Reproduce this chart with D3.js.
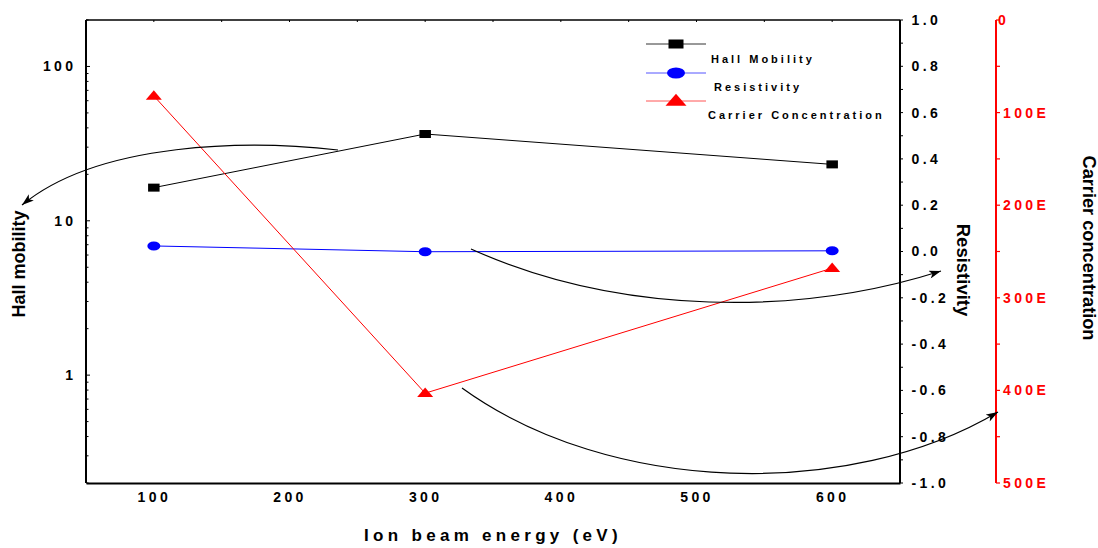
<!DOCTYPE html>
<html>
<head>
<meta charset="utf-8">
<script src="https://cdn.jsdelivr.net/npm/d3@7"></script>
<style>
  html, body { margin: 0; padding: 0; background: #fff; }
  svg { display: block; }
  text { font-family: Arial, "Liberation Sans", sans-serif; }
</style>
</head>
<body>
<svg id="chart" width="1098" height="548"></svg>
<script>
// ---- data ----
const energies = [100, 300, 600];
const hallMobility = [16.4, 36.5, 23.2];
const resistivity = [0.024, -0.001, 0.003];
const carrierConc = [82, 403, 268];
const xTickValues = [100, 200, 300, 400, 500, 600];
const hallTickValues = [1, 10, 100];
const resTickValues = [-1.0, -0.8, -0.6, -0.4, -0.2, 0.0, 0.2, 0.4, 0.6, 0.8, 1.0];
const carrierTickValues = [0, 100, 200, 300, 400, 500];
const seriesNames = ["Hall Mobility", "Resistivity", "Carrier Concentration"];

// ---- layout ----
const svg = d3.select("#chart");
const L = 86, R = 900, T = 20, B = 483, RED_X = 996;

const x = d3.scaleLinear().domain([50, 650]).range([L, R]);
const yHall = d3.scaleLog().domain([0.2, 200]).range([B, T]);
const yRes = d3.scaleLinear().domain([-1, 1]).range([B, T]);
const yCar = d3.scaleLinear().domain([0, 500]).range([T, B]);

const tickFont = g => g.selectAll("text")
  .attr("font-family", "Arial, 'Liberation Sans', sans-serif")
  .attr("font-size", 14).attr("font-weight", "bold")
  .style("letter-spacing", "3.4px");

// arrow marker
const defs = svg.append("defs");
defs.append("marker").attr("id", "arrow")
  .attr("markerUnits", "userSpaceOnUse")
  .attr("viewBox", "0 0 12 8").attr("refX", 12).attr("refY", 4)
  .attr("markerWidth", 13).attr("markerHeight", 8).attr("orient", "auto")
  .append("path").attr("d", "M0,0 L12,4 L0,8 L3,4 Z").attr("fill", "#000");

// ---- frame: top line with inner ticks ----
svg.append("line").attr("x1", L).attr("x2", R).attr("y1", T).attr("y2", T)
  .attr("stroke", "#000").attr("stroke-width", 1.5);
svg.append("g").selectAll("line").data(d3.range(100, 650, 50)).join("line")
  .attr("x1", d => x(d)).attr("x2", d => x(d)).attr("y1", T).attr("y2", T + 2)
  .attr("stroke", "#000").attr("stroke-width", 1);

// ---- bottom axis ----
const gx = svg.append("g").attr("transform", `translate(0,${B})`)
  .call(d3.axisBottom(x).tickValues(xTickValues).tickSize(0).tickPadding(9).tickFormat(d3.format("d")));
gx.select(".domain").attr("stroke", "#000").attr("stroke-width", 2.2);
gx.call(tickFont);
gx.selectAll("text").attr("fill", "#000");

// ---- left log axis ----
const minorHall = [];
[0.1, 1, 10, 100].forEach(dec => { for (let k = 1; k <= 9; k++) { const v = k * dec; if (v >= 0.2 && v <= 200) minorHall.push(v); } });
const gyL = svg.append("g").attr("transform", `translate(${L},0)`);
gyL.append("line").attr("x1", 0).attr("x2", 0).attr("y1", T).attr("y2", B)
  .attr("stroke", "#000").attr("stroke-width", 2);
gyL.selectAll("line.minor").data(minorHall).join("line").attr("class", "minor")
  .attr("x1", 0).attr("x2", d => hallTickValues.includes(d) ? 4 : 2.5)
  .attr("y1", d => yHall(d)).attr("y2", d => yHall(d))
  .attr("stroke", "#000").attr("stroke-width", 1);
const gyLt = svg.append("g").attr("transform", `translate(${L},0)`)
  .call(d3.axisLeft(yHall).tickValues(hallTickValues).tickSize(0).tickPadding(9.5).tickFormat(d3.format("d")));
gyLt.select(".domain").remove();
gyLt.call(tickFont);

// ---- right resistivity axis ----
const gyR = svg.append("g").attr("transform", `translate(${R},0)`);
gyR.append("line").attr("x1", 0).attr("x2", 0).attr("y1", T).attr("y2", B)
  .attr("stroke", "#000").attr("stroke-width", 2);
gyR.selectAll("line.t").data(d3.range(-10, 11).map(k => k / 10)).join("line").attr("class", "t")
  .attr("x1", 0).attr("x2", 3).attr("y1", d => yRes(d)).attr("y2", d => yRes(d))
  .attr("stroke", "#000").attr("stroke-width", 1);
const gyRt = svg.append("g").attr("transform", `translate(${R},0)`)
  .call(d3.axisRight(yRes).tickValues(resTickValues).tickSize(0).tickPadding(11.5).tickFormat(d3.format(".1f")));
gyRt.select(".domain").remove();
gyRt.call(tickFont);
gyRt.selectAll("text").text(d => d3.format(".1f")(d).replace("−", "-"));

// ---- red carrier axis ----
const gyC = svg.append("g").attr("transform", `translate(${RED_X},0)`);
gyC.append("line").attr("x1", 0).attr("x2", 0).attr("y1", T).attr("y2", B)
  .attr("stroke", "#ff0000").attr("stroke-width", 2);
gyC.selectAll("line.t").data(d3.range(0, 501, 50)).join("line").attr("class", "t")
  .attr("x1", 0).attr("x2", 4).attr("y1", d => yCar(d)).attr("y2", d => yCar(d))
  .attr("stroke", "#ff0000").attr("stroke-width", 1.2);
const gyCt = svg.append("g").attr("transform", `translate(${RED_X},0)`)
  .call(d3.axisRight(yCar).tickValues(carrierTickValues).tickSize(0).tickPadding(7)
    .tickFormat(d => d === 0 ? "0" : d + "E"));
gyCt.select(".domain").remove();
gyCt.call(tickFont);
gyCt.selectAll("text").attr("fill", "#ff0000");
gyCt.selectAll("text").filter(d => d === 0).attr("x", 2);

// ---- axis titles ----
svg.append("text").text("Ion beam energy (eV)")
  .attr("x", 493).attr("y", 541).attr("text-anchor", "middle")
  .attr("font-size", 17).attr("font-weight", "bold").style("letter-spacing", "4.3px");
svg.append("text").text("Hall mobility")
  .attr("transform", "translate(25,264) rotate(-90)").attr("text-anchor", "middle")
  .attr("font-size", 18).attr("font-weight", "bold");
svg.append("text").text("Resistivity")
  .attr("transform", "translate(957,270) rotate(90)").attr("text-anchor", "middle")
  .attr("font-size", 18.5).attr("font-weight", "bold");
svg.append("text").text("Carrier concentration")
  .attr("transform", "translate(1083,248) rotate(90)").attr("text-anchor", "middle")
  .attr("font-size", 18.2).attr("font-weight", "bold");

// ---- series ----
const line = (yScale, vals) => d3.line().x((d, i) => x(energies[i])).y((d, i) => yScale(vals[i]))(vals);

svg.append("path").attr("d", line(yHall, hallMobility)).attr("fill", "none").attr("stroke", "#000").attr("stroke-width", 1);
svg.append("path").attr("d", line(yRes, resistivity)).attr("fill", "none").attr("stroke", "#0000ff").attr("stroke-width", 1);
svg.append("path").attr("d", line(yCar, carrierConc)).attr("fill", "none").attr("stroke", "#ff0000").attr("stroke-width", 1);

// markers
const sq = (g, cx, cy, w, h, c) => g.append("rect").attr("x", cx - w / 2).attr("y", cy - h / 2).attr("width", w).attr("height", h).attr("fill", c);
const el = (g, cx, cy, w, h, c) => g.append("ellipse").attr("cx", cx).attr("cy", cy).attr("rx", w / 2).attr("ry", h / 2).attr("fill", c);
const tri = (g, cx, cy, w, h, c) => g.append("path")
  .attr("d", `M${cx},${cy - h * 0.6} L${cx + w / 2},${cy + h * 0.4} L${cx - w / 2},${cy + h * 0.4} Z`).attr("fill", c);

const gm = svg.append("g");
energies.forEach((e, i) => {
  sq(gm, x(e), yHall(hallMobility[i]), 11.5, 8, "#000");
  el(gm, x(e), yRes(resistivity[i]), 13, 9, "#0000ff");
  tri(gm, x(e), yCar(carrierConc[i]), 16, 9.5, "#ff0000");
});

// ---- annotation arrows ----
const arrows = [
  "M338,150 C250,140 100,141 22,205",
  "M471,249 C620,316 800,316 941,271",
  "M462,388 C610,495 850,500 998,412"
];
svg.append("g").selectAll("path").data(arrows).join("path")
  .attr("d", d => d).attr("fill", "none").attr("stroke", "#000").attr("stroke-width", 1.2)
  .attr("marker-end", "url(#arrow)");

// ---- legend ----
const legColors = ["#000", "#0000ff", "#ff0000"];
const legLineCols = ["#333", "#5555ff", "#ff5555"];
const legY = [44, 73, 101];
const legTextPos = [[711, 63], [714, 91], [708, 119]];
const lg = svg.append("g");
seriesNames.forEach((name, i) => {
  lg.append("line").attr("x1", 646).attr("x2", 706).attr("y1", legY[i]).attr("y2", legY[i])
    .attr("stroke", legLineCols[i]).attr("stroke-width", 1);
  if (i === 0) sq(lg, 676, legY[i], 15, 9, legColors[i]);
  if (i === 1) el(lg, 676, legY[i], 18, 11, legColors[i]);
  if (i === 2) tri(lg, 676, legY[i], 21, 12, legColors[i]);
  lg.append("text").text(name).attr("x", legTextPos[i][0]).attr("y", legTextPos[i][1])
    .attr("font-size", 11).attr("font-weight", "bold").style("letter-spacing", "3px");
});
</script>
</body>
</html>
